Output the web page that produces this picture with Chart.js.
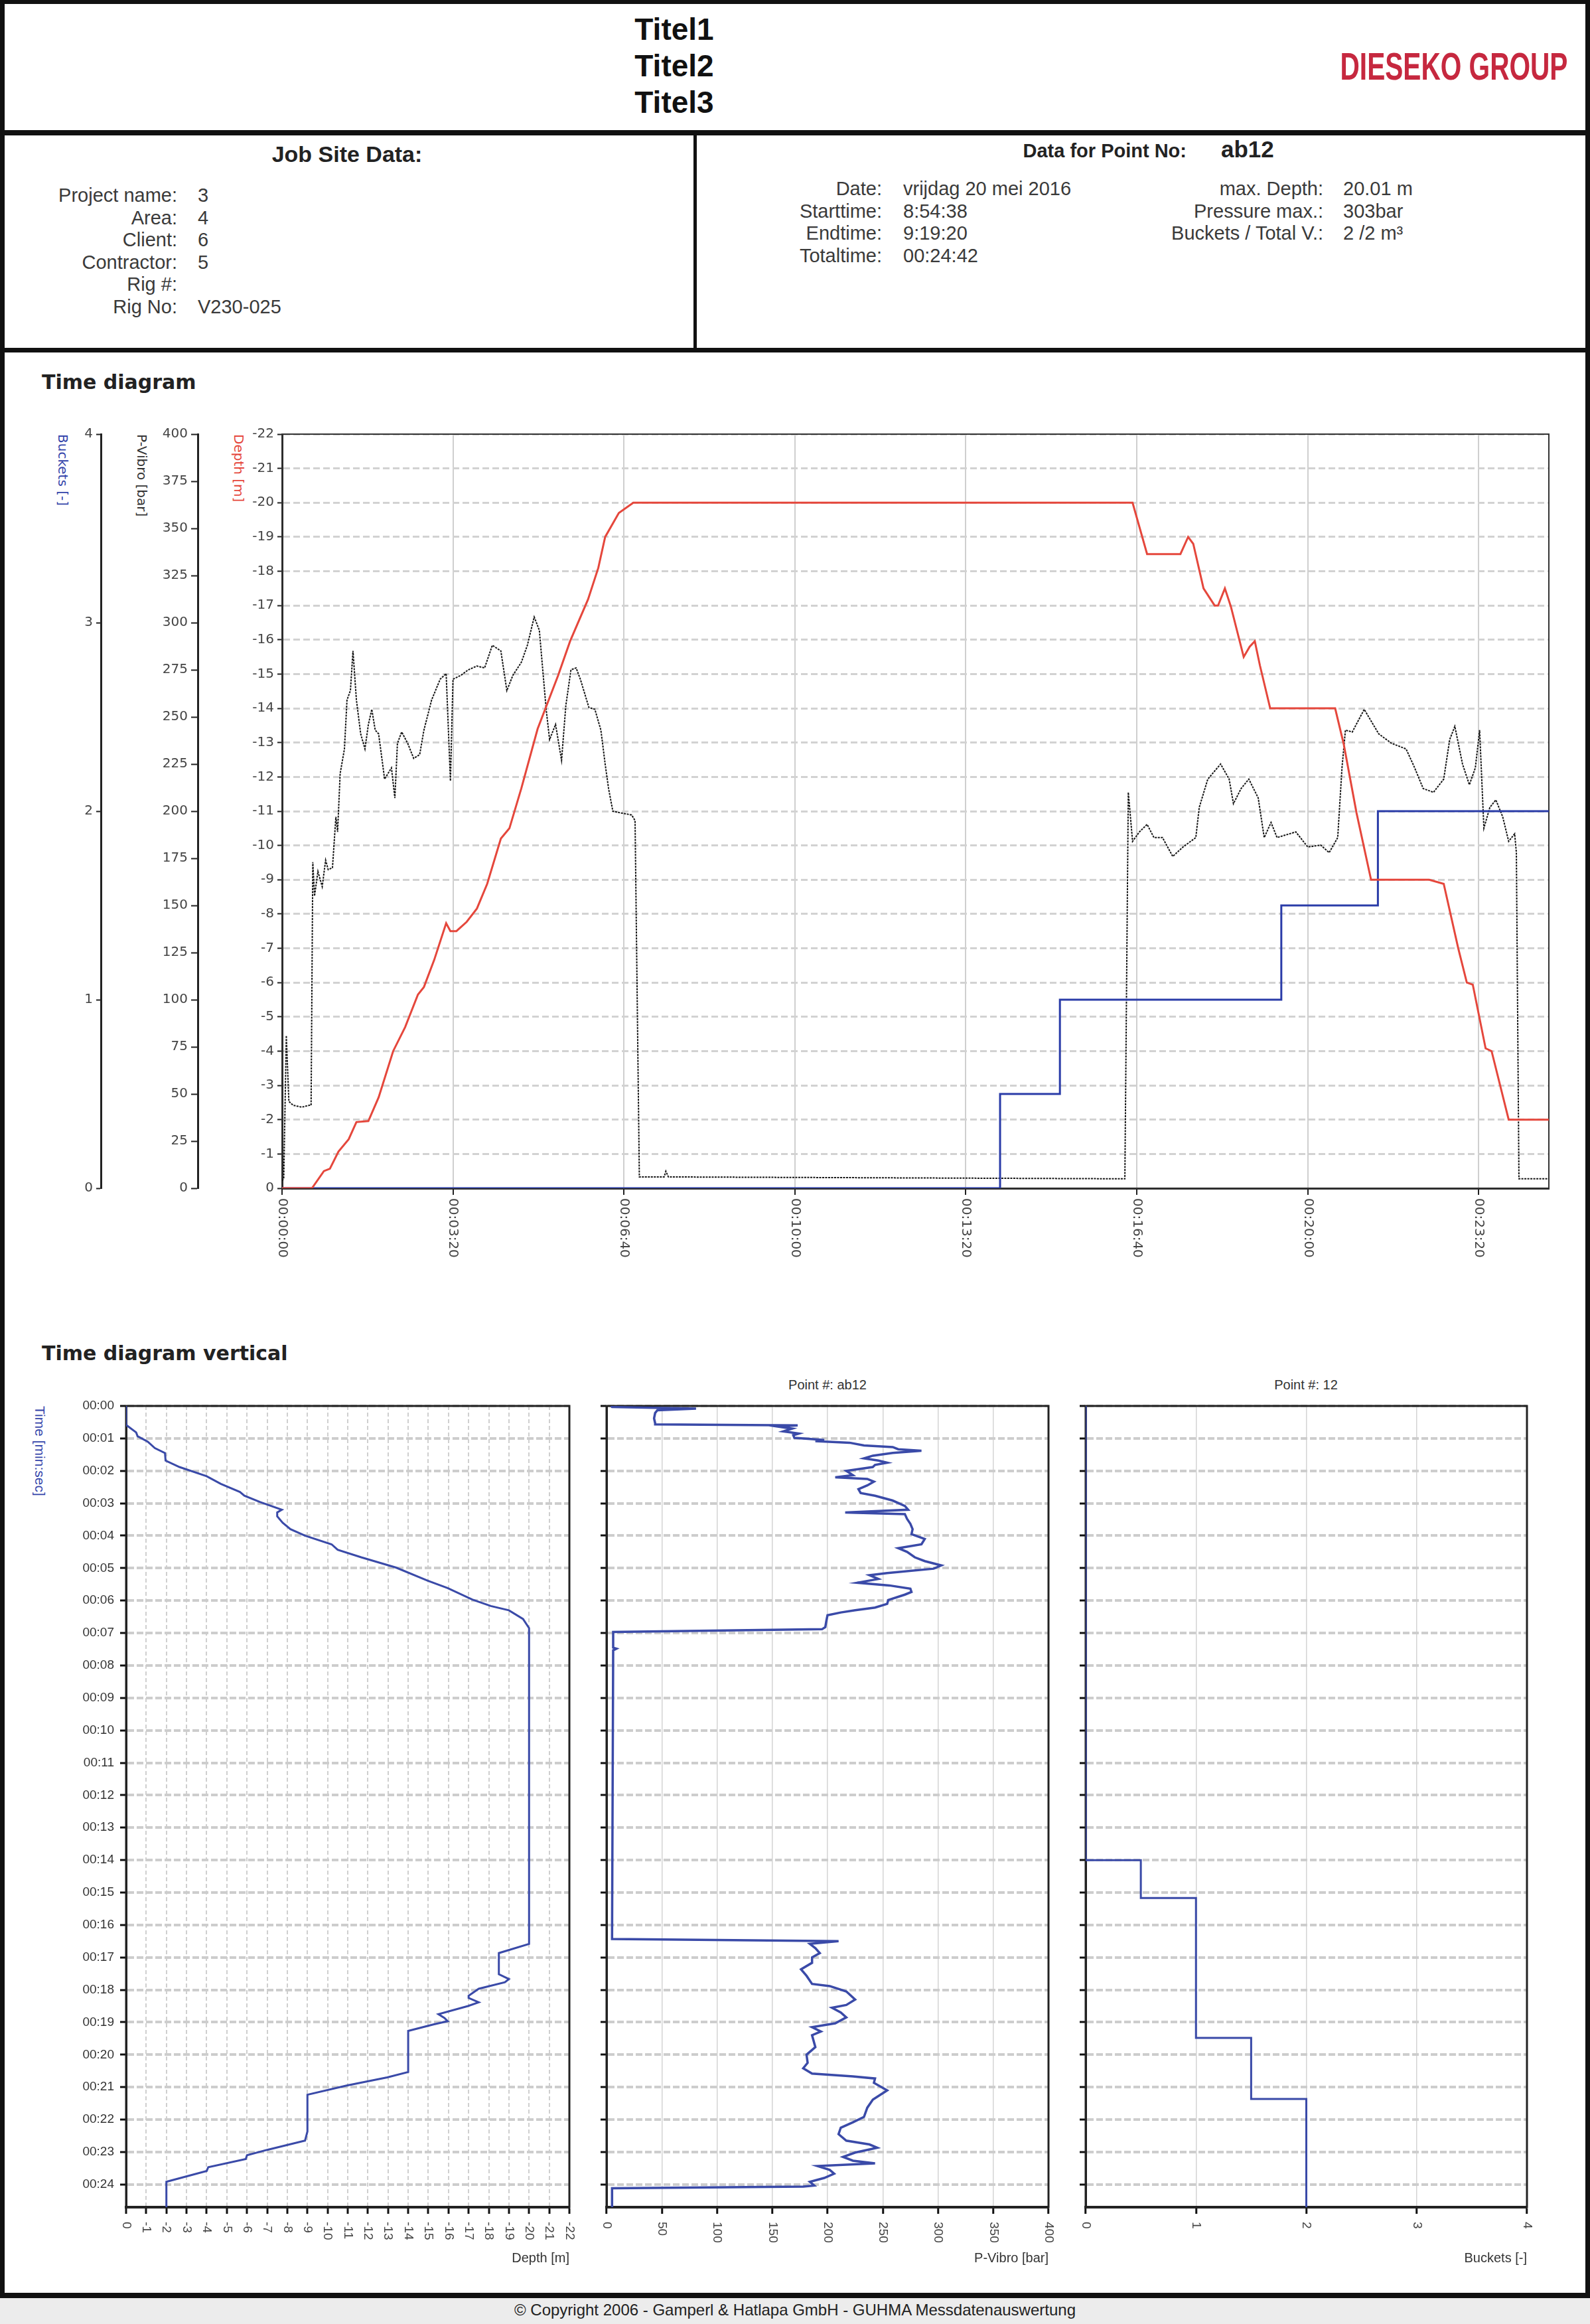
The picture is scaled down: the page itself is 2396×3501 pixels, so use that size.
<!DOCTYPE html>
<html>
<head>
<meta charset="utf-8">
<title>Time diagram</title>
<script src="https://cdn.jsdelivr.net/npm/chart.js@4.4.1/dist/chart.umd.min.js"></script>
<style>
  body { margin: 0; width: 2396px; height: 3501px; position: relative; overflow: hidden; background: #fff;
         font-family: "Liberation Sans", Arial, sans-serif; color: #333; }
  .abs { position: absolute; white-space: nowrap; }
  .bar { position: absolute; background: #111; }
  .rows { position: absolute; font-size: 29px; line-height: 33.5px; color: #3a3a3a; }
  .rows.r { text-align: right; }
  .vt { position: absolute; writing-mode: vertical-rl; white-space: nowrap; }
  .xt { position: absolute; width: 300px; text-align: right; font-size: 20px; line-height: 24px; color: #333; }
  canvas { position: absolute; }
</style>
</head>
<body>

<!-- frame -->
<div class="bar" style="left:0;top:0;width:2396px;height:6px"></div>
<div class="bar" style="left:0;top:0;width:7px;height:3462px"></div>
<div class="bar" style="left:2389px;top:0;width:7px;height:3462px"></div>
<div class="bar" style="left:0;top:196px;width:2396px;height:8px"></div>
<div class="bar" style="left:1045px;top:200px;width:5px;height:327px"></div>
<div class="bar" style="left:0;top:524px;width:2396px;height:7px"></div>
<div class="bar" style="left:0;top:3454px;width:2396px;height:8px"></div>
<div class="abs" style="left:0;top:3462px;width:2396px;height:39px;background:#ececec"></div>

<!-- header -->
<div class="abs" style="left:816px;top:17px;width:400px;text-align:center;font-weight:bold;font-size:46px;line-height:55px;color:#111">Titel1<br>Titel2<br>Titel3</div>
<div class="abs" style="left:1891px;top:68px;width:600px;text-align:center;font-weight:bold;font-size:58px;line-height:64px;color:#c6283f;transform:scaleX(0.7);transform-origin:300px 0">DIESEKO GROUP</div>

<!-- job site data -->
<div class="abs" style="left:323px;top:212px;width:400px;text-align:center;font-weight:bold;font-size:34px;line-height:40px;color:#222">Job Site Data:</div>
<div class="rows r" style="left:40px;top:278px;width:227px">Project name:<br>Area:<br>Client:<br>Contractor:<br>Rig #:<br>Rig No:</div>
<div class="rows" style="left:298px;top:278px">3<br>4<br>6<br>5<br>&nbsp;<br>V230-025</div>

<!-- point data -->
<div class="abs" style="left:1388px;top:209px;width:400px;text-align:right;font-weight:bold;font-size:29px;line-height:36px;color:#222">Data for Point No:</div>
<div class="abs" style="left:1840px;top:204px;font-weight:bold;font-size:35px;line-height:42px;color:#222">ab12</div>
<div class="rows r" style="left:1100px;top:268px;width:229px">Date:<br>Starttime:<br>Endtime:<br>Totaltime:</div>
<div class="rows" style="left:1361px;top:268px">vrijdag 20 mei 2016<br>8:54:38<br>9:19:20<br>00:24:42</div>
<div class="rows r" style="left:1700px;top:268px;width:294px">max. Depth:<br>Pressure max.:<br>Buckets / Total V.:</div>
<div class="rows" style="left:2024px;top:268px">20.01 m<br>303bar<br>2 /2 m³</div>

<!-- time diagram -->
<div class="abs" style="left:63px;top:557px;font-family:'DejaVu Sans';font-weight:bold;font-size:30px;line-height:38px;color:#222">Time diagram</div>
<div class="vt" style="left:84px;top:654px;font-family:'DejaVu Sans';font-size:20px;line-height:22px;color:#3344aa">Buckets [-]</div>
<div class="vt" style="left:203px;top:654px;font-family:'DejaVu Sans';font-size:20px;line-height:22px;color:#333">P-Vibro [bar]</div>
<div class="vt" style="left:349px;top:654px;font-family:'DejaVu Sans';font-size:20px;line-height:22px;color:#e5473c">Depth [m]</div>
<canvas id="timeChart" width="2320" height="1300" style="left:40px;top:620px;width:2320px;height:1300px"></canvas>

<!-- time diagram vertical -->
<div class="abs" style="left:63px;top:2020px;font-family:'DejaVu Sans';font-weight:bold;font-size:30px;line-height:38px;color:#222">Time diagram vertical</div>
<div class="vt" style="left:49px;top:2118px;font-size:21px;line-height:23px;color:#3344aa">Time [min:sec]</div>
<div class="abs" style="left:1047px;top:2074px;width:400px;text-align:center;font-size:20px;line-height:24px;color:#333">Point #: ab12</div>
<div class="abs" style="left:1768px;top:2074px;width:400px;text-align:center;font-size:20px;line-height:24px;color:#333">Point #: 12</div>
<canvas id="depthPanel" width="838" height="1335" style="left:40px;top:2090px;width:838px;height:1335px"></canvas>
<canvas id="pressurePanel" width="705" height="1335" style="left:890px;top:2090px;width:705px;height:1335px"></canvas>
<canvas id="bucketPanel" width="704" height="1335" style="left:1612px;top:2090px;width:704px;height:1335px"></canvas>
<div class="xt" style="left:558px;top:3389px">Depth [m]</div>
<div class="xt" style="left:1280px;top:3389px">P-Vibro [bar]</div>
<div class="xt" style="left:2001px;top:3389px">Buckets [-]</div>

<div class="abs" style="left:0;top:3465px;width:2396px;text-align:center;font-size:24px;line-height:30px;color:#222">© Copyright 2006 - Gamperl &amp; Hatlapa GmbH - GUHMA Messdatenauswertung</div>

<script>
// time in seconds from start, total run 00:24:42
const totalTime = 1482;

const depthTime = [0, 35, 49, 56, 66, 78, 87, 101, 113, 130,
  144, 159, 166, 178, 192, 197, 204, 216, 228, 240,
  256, 266, 280, 299, 323, 337, 358, 370, 378, 394,
  411, 995, 1012, 1051, 1060, 1066, 1078, 1091, 1095, 1103,
  1110, 1125, 1132, 1138, 1144, 1156, 1196, 1232, 1242, 1257,
  1274, 1342, 1359, 1376, 1386, 1393, 1408, 1415, 1435, 1482];
const depthM = [0, 0, -0.5, -0.57, -1.07, -1.43, -1.93, -1.96, -2.65, -4.0,
  -4.7, -5.65, -5.87, -6.66, -7.73, -7.5, -7.5, -7.77, -8.16, -8.88,
  -10.2, -10.5, -11.67, -13.4, -14.96, -15.96, -17.18, -18.1, -19.0, -19.7,
  -20.0, -20.0, -18.5, -18.5, -19.0, -18.8, -17.5, -17.0, -17.0, -17.5,
  -16.97, -15.5, -15.8, -15.96, -15.25, -14.0, -14.0, -14.0, -12.96, -10.95,
  -9.0, -9.0, -8.88, -7.0, -6.0, -5.94, -4.08, -4.0, -2.0, -2.0];

const pressureTime = [0, 2, 5, 8, 13, 23, 32, 34, 36, 38,
  42, 47, 51, 54, 59, 63, 65, 68, 73, 76,
  80, 83, 87, 92, 97, 101, 105, 109, 113, 120,
  128, 132, 135, 140, 147, 154, 161, 166, 175, 185,
  192, 197, 200, 209, 218, 228, 237, 246, 256, 263,
  270, 280, 287, 295, 301, 309, 313, 320, 327, 332,
  338, 344, 349, 359, 366, 373, 378, 382, 387, 397,
  409, 413, 418, 447, 449, 452, 986, 990, 995, 1003,
  1012, 1020, 1030, 1042, 1054, 1069, 1073, 1083, 1098, 1108,
  1113, 1122, 1131, 1142, 1149, 1157, 1164, 1186, 1200, 1215,
  1225, 1235, 1240, 1244, 1252, 1266, 1283, 1298, 1315, 1325,
  1335, 1347, 1359, 1366, 1372, 1381, 1389, 1396, 1401, 1406,
  1413, 1420, 1428, 1435, 1442, 1444, 1447, 1482];
const pressureBar = [4, 5, 81, 46, 44, 43, 44, 44, 173, 155,
  168, 160, 174, 169, 170, 197, 189, 220, 233, 259,
  264, 285, 259, 241, 233, 246, 254, 243, 241, 217,
  223, 207, 236, 242, 236, 228, 230, 243, 259, 270,
  273, 216, 270, 272, 275, 277, 276, 288, 285, 264,
  272, 279, 288, 303, 296, 254, 238, 246, 227, 256,
  275, 276, 270, 255, 254, 243, 225, 212, 200, 199,
  198, 195, 6, 6, 9, 6, 5, 210, 184, 189,
  193, 186, 186, 176, 181, 186, 202, 217, 225, 217,
  204, 212, 217, 207, 186, 194, 186, 189, 181, 182,
  178, 186, 223, 243, 242, 254, 241, 236, 233, 223,
  212, 210, 217, 238, 245, 225, 214, 223, 243, 191,
  202, 206, 197, 184, 188, 178, 5, 5];

const bucketTime = [0, 840, 910, 1169, 1282, 1482];
const bucketCount = [0, 0.5, 1, 1.5, 2, 2];

function pad(n) { return String(n).padStart(2, '0'); }
function hms(s) { return pad(Math.floor(s / 3600)) + ':' + pad(Math.floor(s / 60) % 60) + ':' + pad(s % 60); }
function hm(s) { return '00:' + pad(Math.round(s / 60)); }
// time on x (main chart) or time on y (vertical panels)
const byTime = (ts, vs) => ts.map((t, i) => ({ x: t, y: vs[i] }));
const byValue = (ts, vs) => ts.map((t, i) => ({ x: vs[i], y: t }));

// x tick labels turned a quarter clockwise, like the print
const rotTicks = {
  id: 'rotTicks',
  afterDraw(chart, args, o) {
    const s = chart.scales.x, ctx = chart.ctx;
    ctx.save();
    ctx.font = o.font;
    ctx.fillStyle = o.color;
    ctx.textAlign = 'left';
    ctx.textBaseline = 'middle';
    s.ticks.forEach(t => {
      ctx.save();
      ctx.translate(s.getPixelForValue(t.value), s.top + o.offset);
      ctx.rotate(Math.PI / 2);
      ctx.fillText(t.label, 0, 0);
      ctx.restore();
    });
    ctx.restore();
  }
};
const frame = {
  id: 'frame',
  beforeDatasetsDraw(chart, args, o) {
    const a = chart.chartArea, ctx = chart.ctx;
    ctx.save();
    ctx.strokeStyle = o.color;
    ctx.lineWidth = o.width;
    ctx.strokeRect(a.left, a.top, a.right - a.left, a.bottom - a.top);
    ctx.restore();
  }
};

const tickFont = { family: 'DejaVu Sans', size: 20 };
const axisTicks = { tickColor: '#222', tickWidth: 2 };

new Chart(document.getElementById('timeChart'), {
  type: 'line',
  data: {
    datasets: [
      { label: 'Depth', data: byTime(depthTime, depthM), yAxisID: 'yD', borderColor: '#e5473c', borderWidth: 3 },
      { label: 'Buckets', data: byTime(bucketTime, bucketCount), yAxisID: 'yB', borderColor: '#2a3ca8', borderWidth: 3, stepped: true },
      { label: 'P-Vibro', data: byTime(pressureTime, pressureBar), yAxisID: 'yP', borderColor: '#161616', borderWidth: 2, borderDash: [3, 1.5] }
    ]
  },
  options: {
    responsive: false,
    animation: false,
    elements: { point: { radius: 0 }, line: { tension: 0 } },
    layout: { autoPadding: false, padding: { left: 20, top: 34, right: 26, bottom: 10 } },
    plugins: {
      legend: { display: false },
      tooltip: { enabled: false },
      rotTicks: { font: '20px "DejaVu Sans"', color: '#444', offset: 15 },
      frame: { color: '#333', width: 2 }
    },
    scales: {
      x: {
        type: 'linear', min: 0, max: totalTime,
        afterFit: s => { s.height = 120; },
        ticks: { stepSize: 200, includeBounds: false, display: false, callback: v => hms(v) },
        grid: { color: '#cfcfcf', lineWidth: 2, tickLength: 10, ...axisTicks },
        border: { color: '#222', width: 3 }
      },
      yD: {
        type: 'linear', position: 'left', weight: 0, min: -22, max: 0, reverse: true,
        afterFit: s => { s.width = 127; },
        ticks: { stepSize: 1, padding: 5, color: '#444', font: tickFont },
        grid: { color: '#d2d2d2', lineWidth: 3, tickLength: 7, ...axisTicks },
        border: { color: '#222', width: 3, dash: [10, 5] }
      },
      yP: {
        type: 'linear', position: 'left', weight: 1, min: 0, max: 400,
        afterFit: s => { s.width = 146; },
        ticks: { stepSize: 25, padding: 5, color: '#444', font: tickFont },
        grid: { drawOnChartArea: false, tickLength: 10, ...axisTicks },
        border: { color: '#222', width: 3 }
      },
      yB: {
        type: 'linear', position: 'left', weight: 2, min: 0, max: 4,
        afterFit: s => { s.width = 92; },
        ticks: { stepSize: 1, padding: 5, color: '#444', font: tickFont },
        grid: { drawOnChartArea: false, tickLength: 7, ...axisTicks },
        border: { color: '#222', width: 3 }
      }
    }
  },
  plugins: [rotTicks, frame]
});

// vertical panels: value across, time downwards
function panel(id, dataset, x, showTime, leftPad, yWidth) {
  return new Chart(document.getElementById(id), {
    type: 'line',
    data: { datasets: [Object.assign({ borderColor: '#3a4aa8', borderWidth: 3 }, dataset)] },
    options: {
      responsive: false,
      animation: false,
      indexAxis: 'y',
      elements: { point: { radius: 0 }, line: { tension: 0 } },
      layout: { autoPadding: false, padding: { left: leftPad, top: 28, right: id === 'depthPanel' ? 20 : 15, bottom: 5 } },
      plugins: {
        legend: { display: false },
        tooltip: { enabled: false },
        rotTicks: { font: '19px "Liberation Sans"', color: '#444', offset: 22 },
        frame: { color: '#222', width: 3 }
      },
      scales: {
        x: {
          type: 'linear', min: x.min, max: x.max, reverse: !!x.reverse,
          afterFit: s => { s.height = 95; },
          ticks: { stepSize: x.step, includeBounds: false, display: false },
          grid: { color: x.gridColor, lineWidth: x.gridWidth, tickColor: '#111', tickLength: 10, tickWidth: 3 },
          border: { color: '#222', width: 4, dash: x.dash }
        },
        y: {
          type: 'linear', min: 0, max: totalTime, reverse: true,
          afterFit: s => { s.width = yWidth; },
          ticks: { stepSize: 60, includeBounds: false, display: showTime, callback: v => hm(v),
                   padding: 9, color: '#333', font: { family: 'Liberation Sans', size: 19 } },
          grid: { color: '#cdcdcd', lineWidth: 4, tickColor: '#111', tickLength: 9, tickWidth: 3 },
          border: { color: '#222', width: 3, dash: [10, 4] }
        }
      }
    },
    plugins: [rotTicks, frame]
  });
}

panel('depthPanel', { data: byValue(depthTime, depthM), borderWidth: 3 },
  { min: -22, max: 0, reverse: true, step: 1, gridColor: '#cfcfcf', gridWidth: 2, dash: [6, 4] },
  true, 40, 110);
panel('pressurePanel', { data: byValue(pressureTime, pressureBar), borderWidth: 3.5 },
  { min: 0, max: 400, step: 50, gridColor: '#d4d4d4', gridWidth: 1.5, dash: [] },
  false, 12, 12);
panel('bucketPanel', { data: byValue(bucketTime, bucketCount), stepped: 'after', borderWidth: 3 },
  { min: 0, max: 4, step: 1, gridColor: '#d4d4d4', gridWidth: 1.5, dash: [] },
  false, 12, 12);
</script>
</body>
</html>
